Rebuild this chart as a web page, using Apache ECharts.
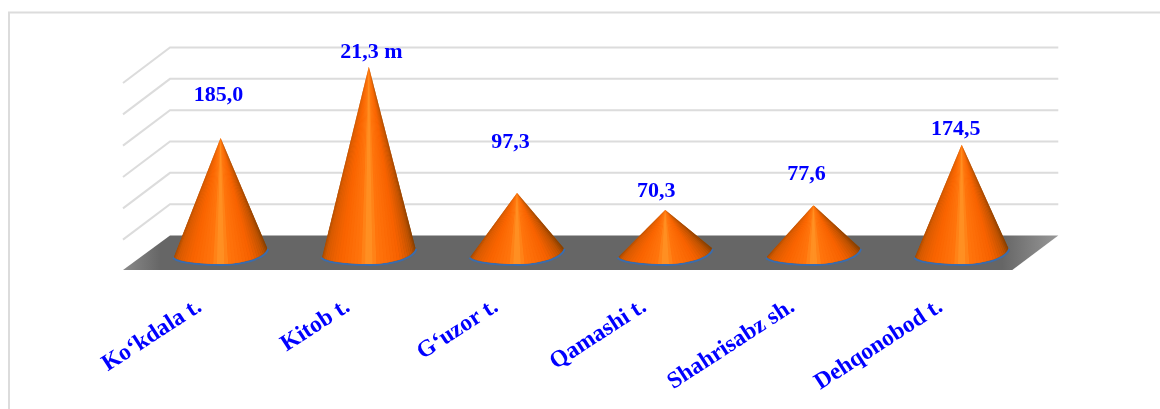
<!DOCTYPE html>
<html><head><meta charset="utf-8">
<style>html,body{margin:0;padding:0;background:#fff;overflow:hidden}#c{width:1160px;height:409px}</style>
<script src="https://cdn.jsdelivr.net/npm/echarts@6/dist/echarts.min.js"></script>
</head><body><div id="c"></div>
<script>
const categories = ["Ko‘kdala t.", "Kitob t.", "G‘uzor t.", "Qamashi t.", "Shahrisabz sh.", "Dehqonobod t."];
const values = [185.0, 299, 97.3, 70.3, 77.6, 174.5];
const valueLabels = ["185,0", "21,3 m", "97,3", "70,3", "77,6", "174,5"];
const tickValues = [0, 50, 100, 150, 200, 250, 300];
// hand-placed label offsets from the apex of each cone, as in the reference: [dx, dy]
const labelOffsets = [[-2, -42.5], [2.5, -14], [-6.5, -50.5], [-9, -18.5], [-7, -31.5], [-6, -15.5]];

const depth = {dx: 23.5, back: 18.5, front: 16, lineDrop: 17.5};
const LINE = '#dcdcdc', TEXT = '#0000ff', FONT = '"Liberation Serif","Times New Roman",serif';
// shading across the cone: [position, r, g, b]
const coneShade = [
  [0, 160, 72, 0], [0.1, 214, 90, 0], [0.28, 250, 100, 0], [0.43, 255, 116, 12], [0.5, 255, 150, 40],
  [0.57, 255, 116, 12], [0.74, 248, 98, 0], [0.9, 190, 82, 0], [1, 130, 62, 0]
];
const SLICES = 36;

function shadeAt(t) {
  for (let k = 1; k < coneShade.length; k++) {
    if (t <= coneShade[k][0]) {
      const a = coneShade[k - 1], b = coneShade[k], f = (t - a[0]) / (b[0] - a[0]);
      return `rgb(${[1, 2, 3].map(c => Math.round(a[c] + (b[c] - a[c]) * f)).join(',')})`;
    }
  }
  return '#804000';
}

function bez(p0, p1, p2, p3, t) {
  const u = 1 - t;
  return [0, 1].map(c => u*u*u*p0[c] + 3*u*u*t*p1[c] + 3*u*t*t*p2[c] + t*t*t*p3[c]);
}

// rim of the cone base, left to right, as sampled points
function rimPoint(cx, y, hw, t) {
  const L = [cx - hw, y + 2.7], B = [cx, y + 10], R = [cx + hw, y - 6];
  return t < 0.5
    ? bez(L, [cx - hw + 2, y + 7], [cx - hw * 0.48, y + 10], B, t * 2)
    : bez(B, [cx + hw * 0.5, y + 10], [cx + hw - 2, y + 3], R, t * 2 - 1);
}

function renderWall(params, api) {
  const v = api.value(0);
  const L = api.coord([0, v]), R = api.coord([categories.length - 1, v]);
  const band = api.size([1, 0])[0];
  const x0 = L[0] - band / 2, x1 = R[0] + band / 2, y = L[1];
  const backL = x0 + depth.dx, backR = x1 + depth.dx - 1, frontL = x0 - depth.dx, frontR = x1 - depth.dx;
  if (v === 0) {
    return {type: 'polygon', shape: {points: [[backL, y - depth.back], [backR, y - depth.back], [frontR, y + depth.front], [frontL, y + depth.front]]},
      style: {fill: {type: 'linear', x: 0, y: 0, x2: 1, y2: 0, colorStops: [
        {offset: 0, color: '#8a8a8a'}, {offset: 0.04, color: '#666'}, {offset: 0.94, color: '#666'}, {offset: 1, color: '#989898'}]}}};
  }
  return {type: 'polyline', shape: {points: [[frontL, y - depth.back + 2 * depth.lineDrop + 0.5], [backL, y - depth.back], [backR, y - depth.back]]},
    style: {fill: null, stroke: LINE, lineWidth: 2}};
}

function renderCone(params, api) {
  const i = api.value(0), val = api.value(1);
  const base = api.coord([i, 0]), top = api.coord([i, val]);
  const hw = api.size([1, 0])[0] * 0.314;
  const cx = base[0], y = base[1];
  const off = labelOffsets[i];
  const children = [];
  const rim = [];
  for (let s = 0; s <= SLICES; s++) rim.push(rimPoint(cx, y, hw, s / SLICES));
  // blue rim slightly outside the base
  children.push({type: 'polyline', shape: {points: rim.map(p => [p[0] + (p[0] < cx ? -1 : 1), p[1] + 1])},
    style: {fill: null, stroke: '#3a6cae', lineWidth: 1.8}});
  // full silhouette below the wedges, so that their seams do not show the floor
  children.push({type: 'polygon', shape: {points: [[cx, top[1]]].concat(rim)},
    style: {fill: {type: 'linear', x: 0, y: 0, x2: 1, y2: 0,
      colorStops: coneShade.map(c => ({offset: c[0], color: `rgb(${c[1]},${c[2]},${c[3]})`}))}}});
  for (let s = 0; s < SLICES; s++) {
    children.push({type: 'polygon', shape: {points: [[cx, top[1]], rim[s], rim[s + 1]]},
      style: {fill: shadeAt((s + 0.5) / SLICES)}});
  }
  children.push({type: 'text', x: cx + off[0], y: top[1] + off[1],
    style: {text: valueLabels[i], fill: TEXT, font: `bold 22px ${FONT}`, align: 'center', verticalAlign: 'middle'}});
  return {type: 'group', children};
}

const chart = echarts.init(document.getElementById('c'), null, {renderer: 'canvas'});
chart.setOption({
  animation: false,
  backgroundColor: '#fff',
  graphic: [{type: 'polyline', z: -10, shape: {points: [[9, 420], [9, 12.5], [1165, 12.5]]}, style: {fill: null, stroke: '#dcdcdc', lineWidth: 2}}],
  grid: {left: 146.5, right: 124.2, top: 66, bottom: 155, containLabel: false},
  xAxis: {type: 'category', data: categories, axisLine: {show: false}, axisTick: {show: false},
    axisLabel: {interval: 0, rotate: 33, margin: 37, padding: [0, 25, 0, 0], color: TEXT, fontFamily: FONT, fontWeight: 'bold', fontSize: 23.5}},
  yAxis: {type: 'value', min: 0, max: 300, interval: 50, axisLine: {show: false}, axisTick: {show: false}, axisLabel: {show: false}, splitLine: {show: false}},
  series: [
    {type: 'custom', silent: true, clip: false, z: 1, renderItem: renderWall, encode: {y: 0}, data: tickValues.map(v => [v])},
    {type: 'custom', silent: true, clip: false, z: 2, renderItem: renderCone, encode: {x: 0, y: 1}, data: values.map((v, i) => [i, v])}
  ]
});
</script></body></html>
